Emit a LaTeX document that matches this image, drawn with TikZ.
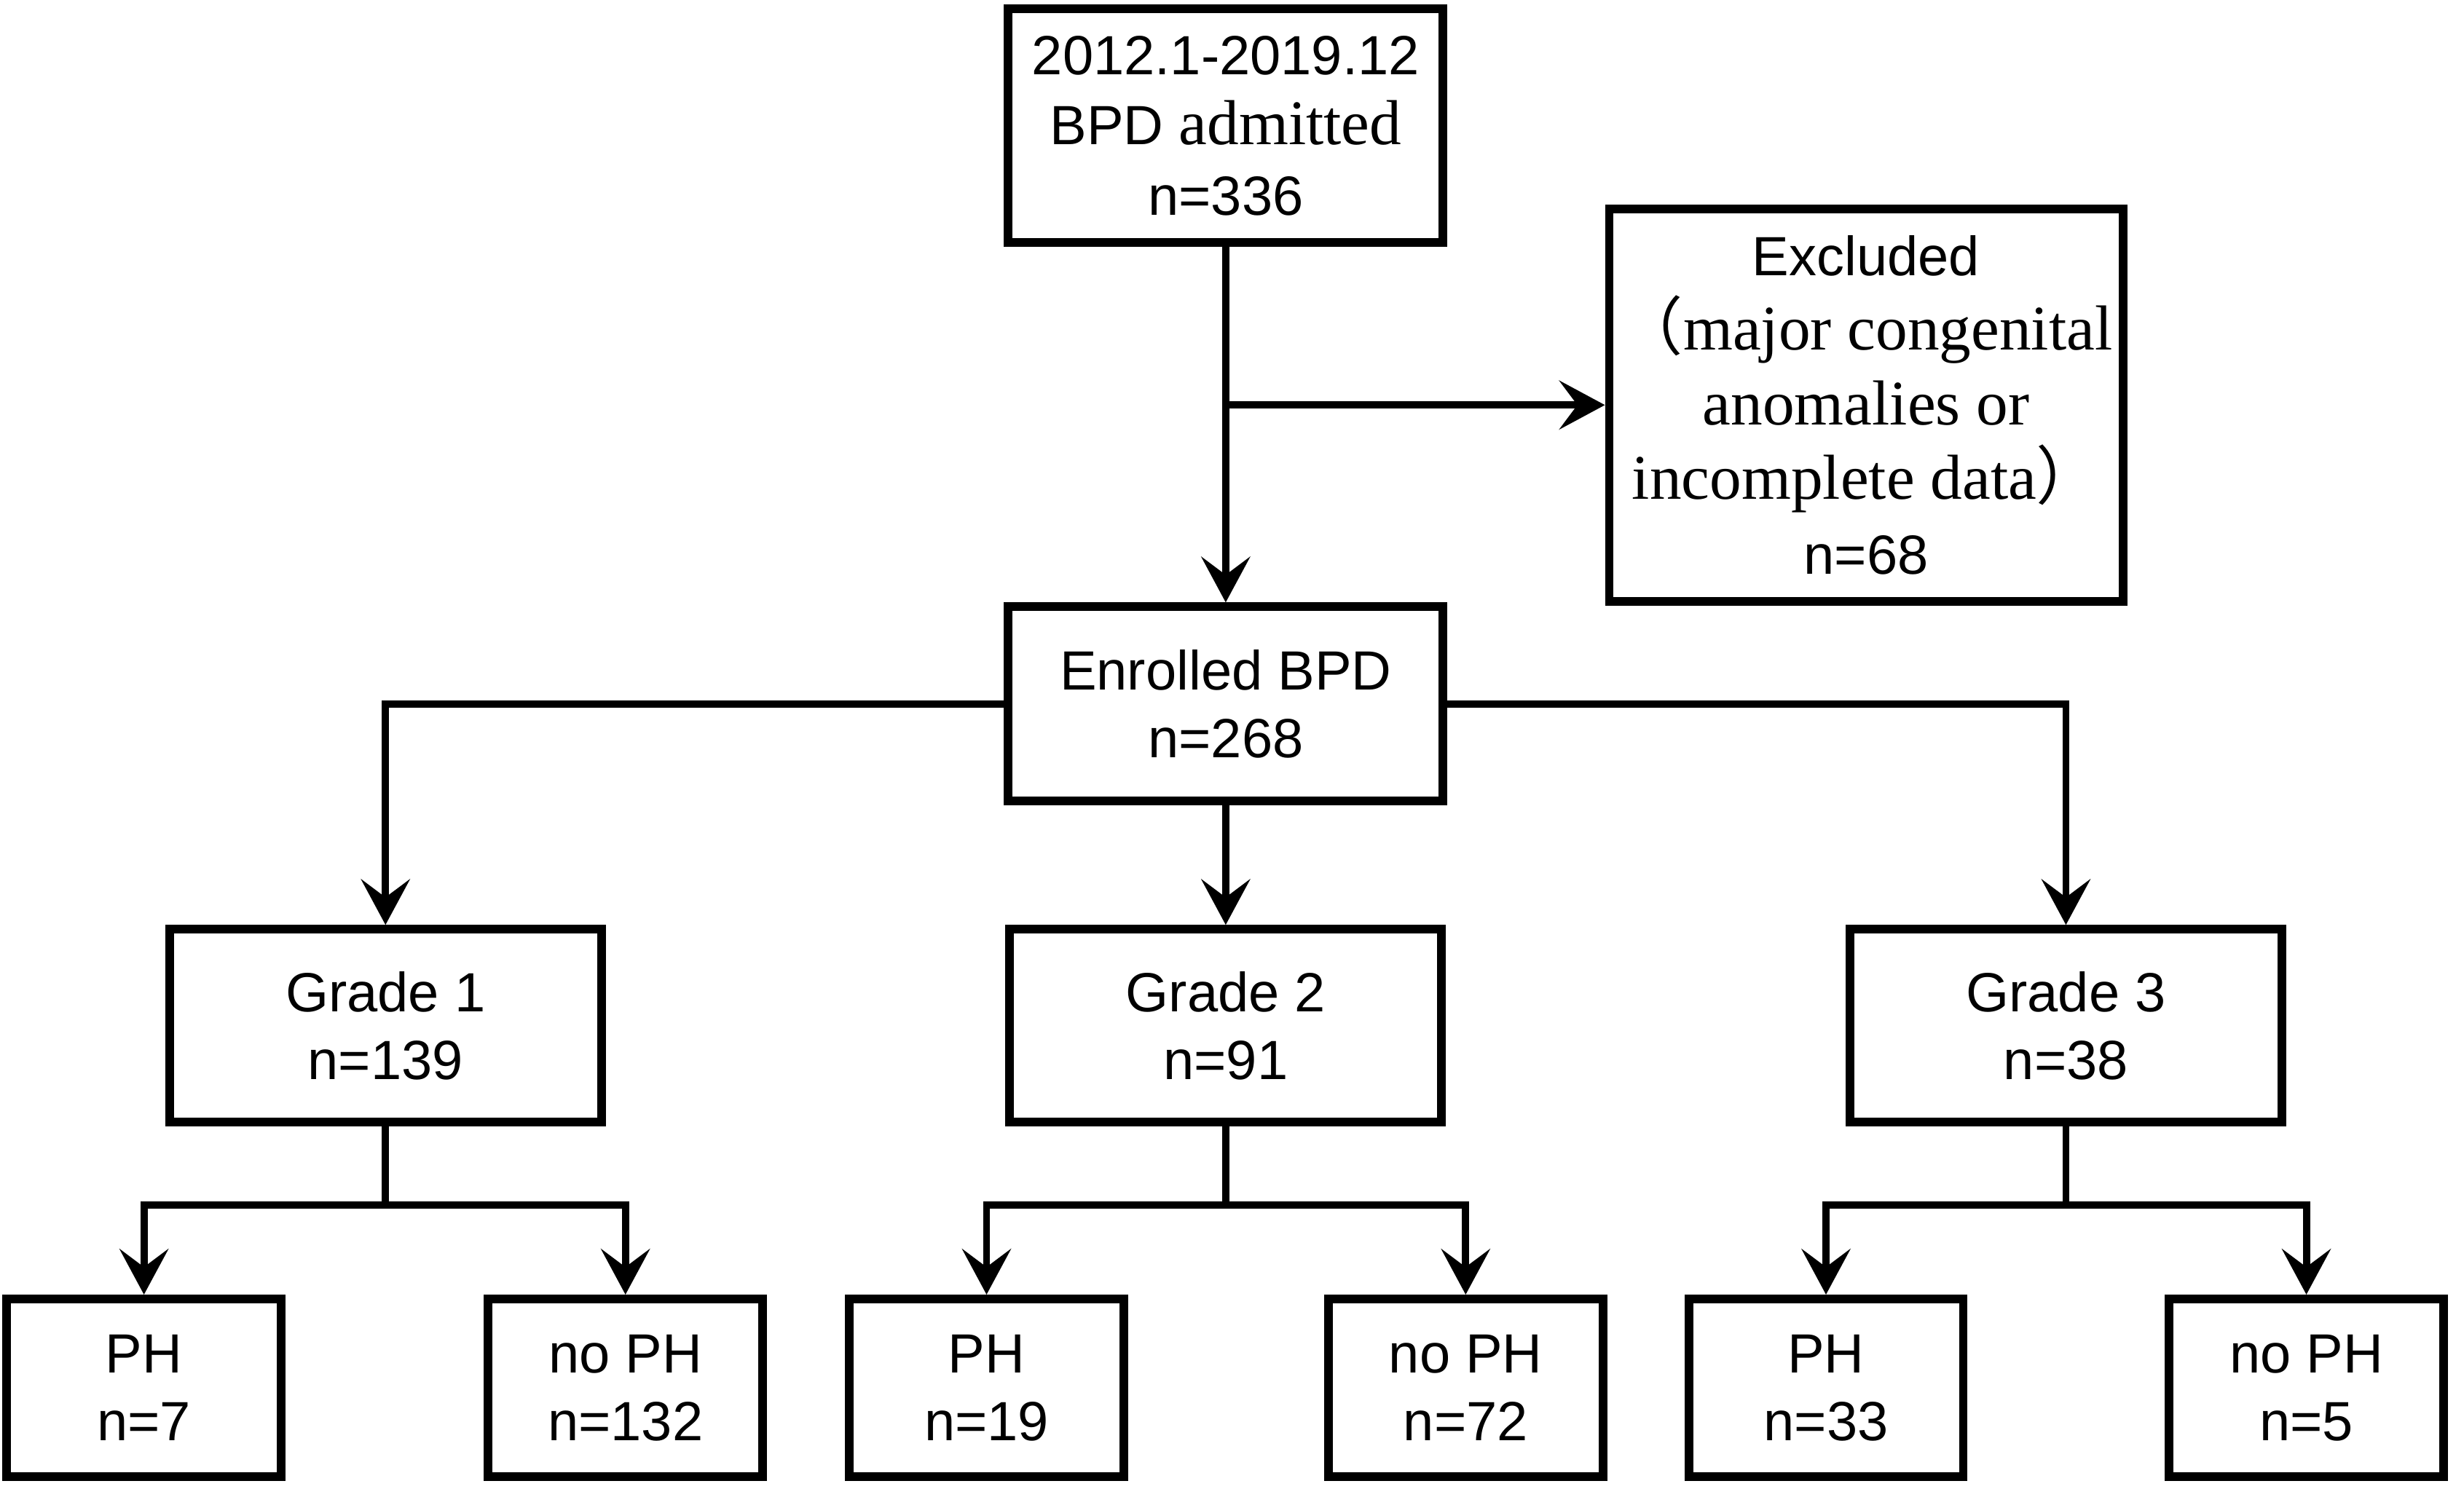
\documentclass[tikz,border=0pt]{standalone}
\usepackage{fontspec}
\setmainfont{Liberation Sans}
\newfontfamily\serif{Liberation Serif}
\newfontfamily\cjk{Noto Sans CJK SC}
\usetikzlibrary{arrows.meta}
\tikzset{
  box/.style={draw, line width=3.15pt, inner sep=0pt, align=center, font=\fontsize{20}{24.5}\selectfont},
  bigbox/.style={box, minimum width=5.49cm, minimum height=2.45cm},
  smallbox/.style={box, minimum width=3.49cm, minimum height=2.26cm},
  ln/.style={line width=2.6pt},
  arr/.style={ln, -{Stealth[length=0.58cm,width=0.62cm,inset=0.23cm]}},
}
\newcommand{\sr}{\serif\fontsize{23}{27}\selectfont}
\begin{document}
\begin{tikzpicture}[x=0.02cm, y=-0.02cm]
\path[use as bounding box, fill=white] (0,0) rectangle (1566,946.2);
% boxes
\node[box, minimum width=5.53cm, minimum height=2.97cm, font=\fontsize{20}{25.5}\selectfont] (top) at (779,80)
  {2012.1-2019.12\\BPD {\serif\fontsize{23}{25.5}\selectfont admitted}\\n=336};
\node[box, minimum width=6.53cm, minimum height=4.99cm, font=\fontsize{20}{27}\selectfont] (excl) at (1186,257.5)
  {Excluded\\{\sr{\cjk （}major congenital}\\{\sr anomalies or}\\{\sr incomplete data{\cjk ）}}\\n=68};
\node[box, minimum width=5.53cm, minimum height=2.47cm] (enr) at (779,447.5) {Enrolled BPD\\n=268};
\node[bigbox] (g1) at (245,652) {Grade 1\\n=139};
\node[bigbox] (g2) at (779,652) {Grade 2\\n=91};
\node[bigbox] (g3) at (1313,652) {Grade 3\\n=38};
\node[smallbox] (ph1) at (91.5,882.3) {PH\\n=7};
\node[smallbox] (nph1) at (397.5,882.3) {no PH\\n=132};
\node[smallbox] (ph2) at (627,882.3) {PH\\n=19};
\node[smallbox] (nph2) at (931.5,882.3) {no PH\\n=72};
\node[smallbox] (ph3) at (1160.5,882.3) {PH\\n=33};
\node[smallbox] (nph3) at (1465.8,882.3) {no PH\\n=5};
% connectors
\coordinate (br) at (top.south |- excl.west);
\draw[arr] (top.south) -- (enr.north);
\draw[arr] (br) -- (excl.west);
\draw[arr] (enr.west) -| (g1.north);
\draw[arr] (enr.east) -| (g3.north);
\draw[arr] (enr.south) -- (g2.north);
\coordinate (s1) at (245,766);
\coordinate (s2) at (779,766);
\coordinate (s3) at (1313,766);
\draw[ln] (g1.south) -- (s1);
\draw[ln] (g2.south) -- (s2);
\draw[ln] (g3.south) -- (s3);
\draw[arr] (s1) -| (ph1.north);
\draw[arr] (s1) -| (nph1.north);
\draw[arr] (s2) -| (ph2.north);
\draw[arr] (s2) -| (nph2.north);
\draw[arr] (s3) -| (ph3.north);
\draw[arr] (s3) -| (nph3.north);
\end{tikzpicture}
\end{document}
